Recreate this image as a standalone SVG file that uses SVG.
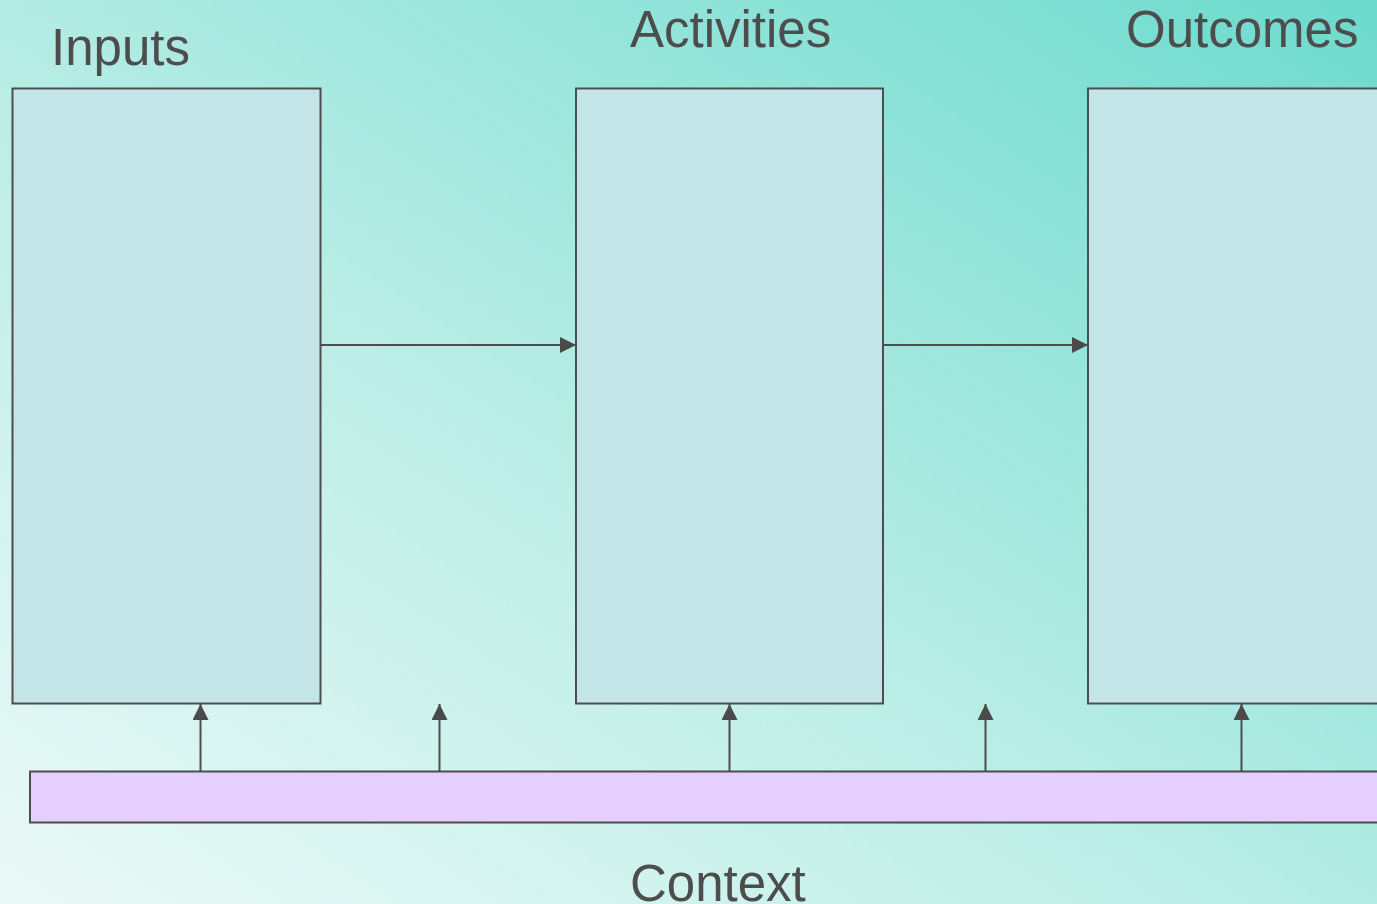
<svg xmlns="http://www.w3.org/2000/svg" width="1377" height="904" viewBox="0 0 1377 904">
  <defs>
    <linearGradient id="bg" x1="0" y1="1" x2="1" y2="0">
      <stop offset="0" stop-color="#ebf9f7"/>
      <stop offset="0.4" stop-color="#c0efe8"/>
      <stop offset="1" stop-color="#6cdacd"/>
    </linearGradient>
    <style>
      .box { fill: #c3e5e7; stroke: #4d4d4d; stroke-width: 2; }
      .ctx { fill: #e5cfff; stroke: #4d4d4d; stroke-width: 2; }
      .lbl { font-family: "Liberation Sans", Arial, sans-serif; font-size: 51px; fill: #4d4d4d; }
      .con { stroke: #4d4d4d; stroke-width: 2; fill: none; }
    </style>
    <marker id="ah" viewBox="0 0 16 16" refX="16" refY="8" markerWidth="16" markerHeight="16" markerUnits="userSpaceOnUse" orient="auto">
      <path d="M0,0 L16,8 L0,16 z" fill="#4a4a4a"/>
    </marker>
  </defs>
  <rect x="0" y="0" width="1377" height="904" fill="url(#bg)"/>

  <g id="inputs">
    <rect class="box" x="12.5" y="88.5" width="308" height="615"/>
    <text class="lbl" x="51" y="65">Inputs</text>
  </g>
  <g id="activities">
    <rect class="box" x="576" y="88.5" width="307" height="615"/>
    <text class="lbl" x="630" y="47">Activities</text>
  </g>
  <g id="outcomes">
    <rect class="box" x="1088" y="88.5" width="300" height="615"/>
    <text class="lbl" x="1126" y="47">Outcomes</text>
  </g>
  <g id="context">
    <rect class="ctx" x="30" y="771.5" width="1360" height="51"/>
    <text class="lbl" x="630" y="901">Context</text>
  </g>

  <g id="connectors">
    <line class="con" x1="321" y1="345" x2="576" y2="345" marker-end="url(#ah)"/>
    <line class="con" x1="884" y1="345" x2="1088" y2="345" marker-end="url(#ah)"/>
    <line class="con" x1="200.5" y1="771" x2="200.5" y2="704" marker-end="url(#ah)"/>
    <line class="con" x1="439.5" y1="771" x2="439.5" y2="704" marker-end="url(#ah)"/>
    <line class="con" x1="729.5" y1="771" x2="729.5" y2="704" marker-end="url(#ah)"/>
    <line class="con" x1="985.5" y1="771" x2="985.5" y2="704" marker-end="url(#ah)"/>
    <line class="con" x1="1241.5" y1="771" x2="1241.5" y2="704" marker-end="url(#ah)"/>
  </g>
</svg>
